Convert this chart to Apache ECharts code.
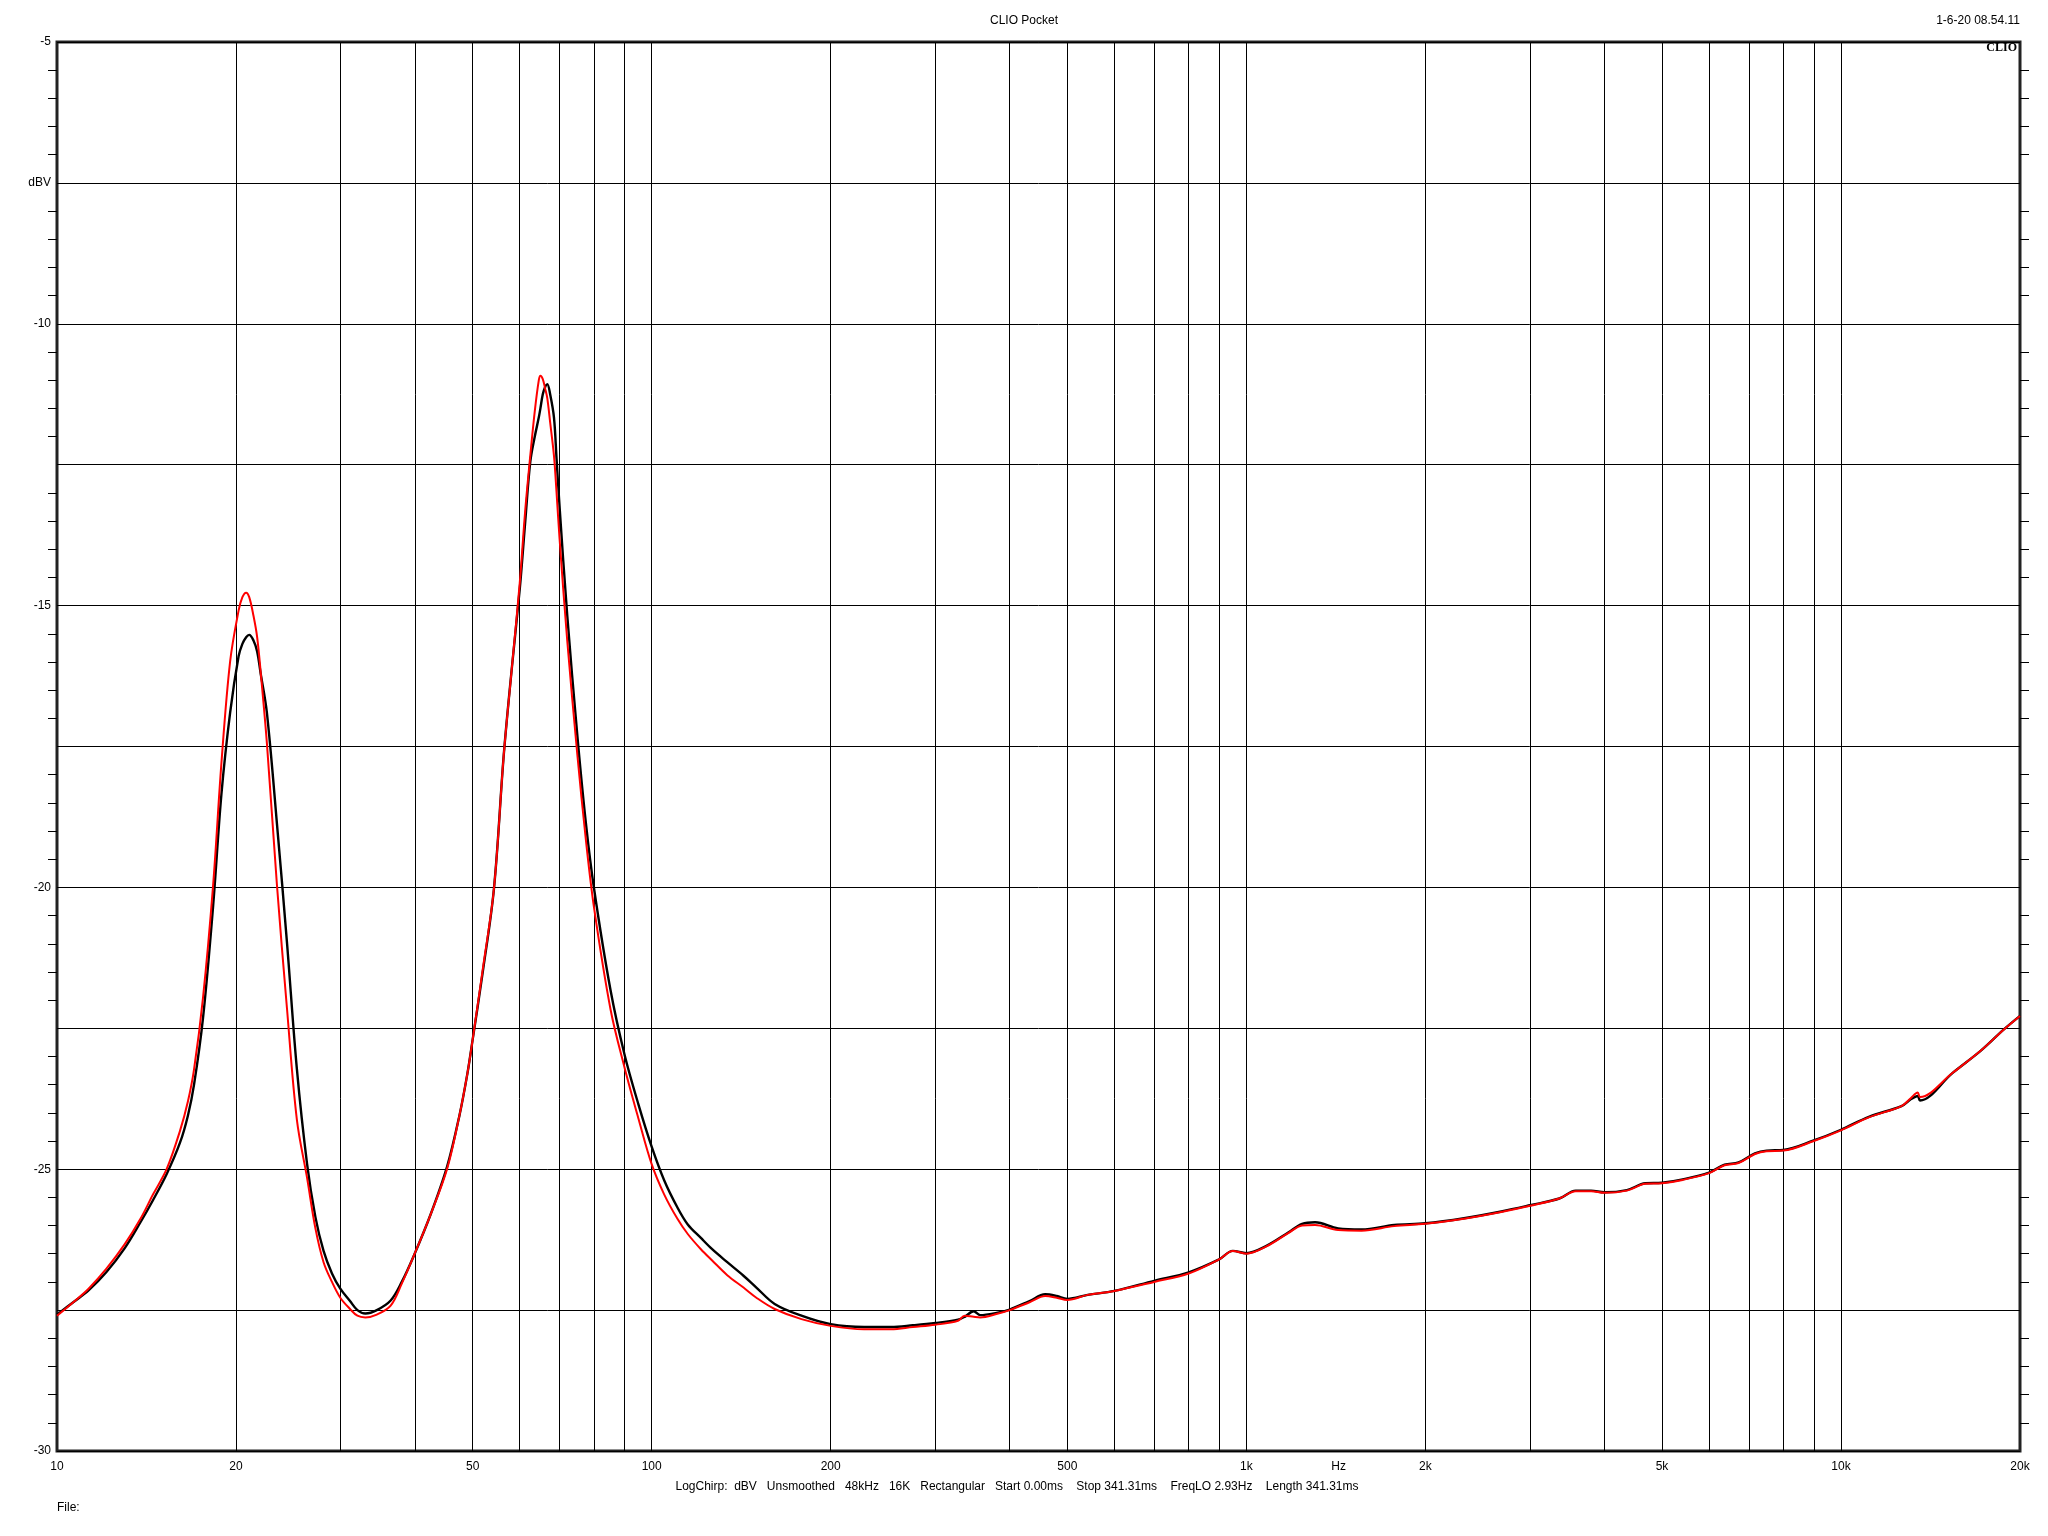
<!DOCTYPE html>
<html>
<head>
<meta charset="utf-8">
<script src="https://cdn.jsdelivr.net/npm/echarts@6/dist/echarts.min.js"></script>
<style>
html,body{margin:0;padding:0;background:#fff;}
#chart{width:2048px;height:1536px;}
</style>
</head>
<body>
<div id="chart"></div>
<script>
// Frequencies (Hz)
const freqs = [10,10.65,11.3,12.1,13.0,13.8,14.5,15.3,16.1,16.6,17.0,17.6,18.3,18.9,19.55,20.2,20.5,20.8,21.05,21.4,21.7,22.0,22.54,23.44,24.36,25.32,26.33,27.2,28.07,29.0,29.95,31.1,32.0,33.0,34.5,36.4,38.0,39.8,42.5,45.3,47.5,49.0,50,52,54.3,56.4,58.2,60,61.3,62.5,63.6,64.6,65.0,65.6,66.2,66.75,67.5,68.5,69.2,70,72.1,75,77.5,80,85.3,90,95,100,105,110.5,115,121,126.4,134,142.7,150,161,178.6,200,227.6,252.6,275,300,327.5,336,348,357,380,400,432,459,480,500,541,600,700,800,900,949,1000,1081,1178,1241,1305,1427,1562,1773,2000,2323,2684,3000,3360,3580,3800,4002,4364,4690,5000,5417,6000,6371,6726,7166,7496,8000,9000,10000,11140,12640,13100,13460,13580,15410,17170,18790,20000];
// Black trace (dBV)
const blackDb = [-27.58,-27.36,-27.15,-26.83,-26.40,-25.95,-25.55,-25.08,-24.53,-24.05,-23.50,-22.32,-20.34,-18.35,-16.90,-15.90,-15.68,-15.56,-15.52,-15.62,-15.81,-16.20,-16.90,-18.88,-20.97,-23.23,-24.90,-25.85,-26.45,-26.85,-27.12,-27.34,-27.50,-27.56,-27.50,-27.33,-27.00,-26.54,-25.80,-24.95,-24.05,-23.30,-22.70,-21.50,-20.02,-17.65,-16.10,-14.71,-13.50,-12.45,-12.00,-11.66,-11.50,-11.25,-11.12,-11.07,-11.25,-11.66,-12.40,-13.24,-15.16,-17.31,-18.85,-20.02,-21.83,-22.96,-23.85,-24.60,-25.20,-25.68,-25.98,-26.22,-26.42,-26.65,-26.89,-27.10,-27.39,-27.60,-27.75,-27.80,-27.80,-27.77,-27.73,-27.67,-27.62,-27.52,-27.59,-27.55,-27.49,-27.34,-27.22,-27.25,-27.30,-27.23,-27.16,-26.98,-26.83,-26.60,-26.45,-26.49,-26.36,-26.12,-25.97,-25.94,-26.05,-26.07,-25.99,-25.96,-25.87,-25.75,-25.64,-25.52,-25.38,-25.38,-25.41,-25.37,-25.25,-25.24,-25.18,-25.06,-24.92,-24.88,-24.72,-24.67,-24.66,-24.49,-24.30,-24.07,-23.88,-23.76,-23.70,-23.78,-23.29,-22.90,-22.52,-22.28];
// Red trace (dBV)
const redDb = [-27.60,-27.36,-27.12,-26.77,-26.33,-25.89,-25.45,-24.99,-24.32,-23.80,-23.23,-21.96,-19.97,-17.80,-15.99,-15.09,-14.85,-14.77,-14.85,-15.18,-15.55,-16.17,-17.44,-19.97,-22.14,-24.13,-25.15,-26.05,-26.65,-27.00,-27.28,-27.48,-27.60,-27.63,-27.58,-27.42,-27.03,-26.54,-25.80,-24.99,-24.05,-23.30,-22.70,-21.45,-20.02,-17.65,-16.10,-14.60,-13.30,-12.34,-11.55,-11.00,-10.92,-10.98,-11.15,-11.32,-11.75,-12.34,-13.00,-13.81,-15.61,-17.65,-19.15,-20.36,-22.17,-23.19,-24.10,-24.91,-25.45,-25.88,-26.15,-26.42,-26.62,-26.88,-27.10,-27.28,-27.48,-27.66,-27.78,-27.84,-27.84,-27.80,-27.76,-27.69,-27.60,-27.62,-27.63,-27.57,-27.50,-27.36,-27.25,-27.28,-27.32,-27.23,-27.16,-27.00,-26.85,-26.60,-26.45,-26.50,-26.37,-26.13,-26.00,-25.99,-26.08,-26.09,-26.01,-25.97,-25.88,-25.76,-25.65,-25.52,-25.39,-25.39,-25.42,-25.38,-25.26,-25.25,-25.19,-25.07,-24.93,-24.89,-24.73,-24.68,-24.67,-24.50,-24.31,-24.08,-23.88,-23.74,-23.64,-23.72,-23.29,-22.90,-22.52,-22.28];
// Vertical grid frequencies
const gridFreqs = [20,30,40,50,60,70,80,90,100,200,300,400,500,600,700,800,900,1000,2000,3000,4000,5000,6000,7000,8000,9000,10000];
// X tick labels
const xTickValues = [10,20,50,100,200,500,1000,1430,2000,5000,10000,20000];
const xTickLabels = ['10','20','50','100','200','500','1k','Hz','2k','5k','10k','20k'];
// Y tick labels
const yTickValues = [-5,-7.5,-10,-15,-20,-25,-30];
const yTickLabels = ['-5','dBV','-10','-15','-20','-25','-30'];

const FONT = '"Liberation Sans", Arial, sans-serif';
const pair = (a) => freqs.map((f, i) => [f, a[i]]);

const markData = gridFreqs.map(f => ({xAxis: f, label: {show: false}}))
  .concat(xTickValues.map((f, i) => ({
    xAxis: f,
    lineStyle: {width: 0, color: 'rgba(0,0,0,0)'},
    label: {show: true, position: 'start', distance: 10, formatter: xTickLabels[i],
      color: '#000', fontSize: 12, fontFamily: FONT}
  })));

const yLabelFmt = (v) => {
  for (let i = 0; i < yTickValues.length; i++) if (Math.abs(yTickValues[i] - v) < 1e-6) return yTickLabels[i];
  return '';
};

const yBase = {
  type: 'value', min: -30, max: -5, interval: 2.5,
  axisLine: {show: false},
  axisTick: {show: false},
  minorTick: {show: true, splitNumber: 5, length: 9, lineStyle: {color: '#000', width: 1}},
  minorSplitLine: {show: false}
};

const chart = echarts.init(document.getElementById('chart'), null, {renderer: 'canvas'});
chart.setOption({
  animation: false,
  backgroundColor: '#fff',
  grid: {left: 57, right: 28, top: 42, bottom: 85, show: true, borderColor: '#222', borderWidth: 3, backgroundColor: 'transparent'},
  xAxis: {
    type: 'log', logBase: 10, min: 10, max: 20000,
    axisLine: {show: false}, axisTick: {show: false}, axisLabel: {show: false},
    splitLine: {show: false}, minorTick: {show: false}, minorSplitLine: {show: false}
  },
  yAxis: [
    Object.assign({}, yBase, {
      position: 'left',
      axisLabel: {show: true, formatter: yLabelFmt, color: '#000', fontSize: 12, fontFamily: FONT, margin: 6},
      splitLine: {show: true, lineStyle: {color: '#000', width: 1}}
    }),
    Object.assign({}, yBase, {
      position: 'right',
      axisLabel: {show: false},
      splitLine: {show: false}
    })
  ],
  series: [
    {
      type: 'line', name: 'black', data: pair(blackDb), showSymbol: false, symbol: 'none',
      smooth: 0.35,
      lineStyle: {color: '#000', width: 2.4}, z: 3,
      markLine: {
        silent: true, symbol: ['none', 'none'], z: 1, animation: false,
        lineStyle: {color: '#000', width: 1, type: 'solid'},
        emphasis: {disabled: true},
        data: markData
      }
    },
    {
      type: 'line', name: 'red', data: pair(redDb), showSymbol: false, symbol: 'none',
      smooth: 0.35,
      lineStyle: {color: '#ff0000', width: 2}, z: 4
    }
  ],
  graphic: [
    {type: 'text', left: 'center', top: 15, style: {text: 'CLIO Pocket', fill: '#000', font: '12px ' + FONT}},
    {type: 'text', right: 28, top: 15, style: {text: '1-6-20 08.54.11', fill: '#000', font: '12px ' + FONT}},
    {type: 'text', right: 31, top: 42, style: {text: 'CLIO', fill: '#000', font: 'bold 12px "Liberation Serif", "DejaVu Serif", serif'}},
    {type: 'text', x: 1017, y: 1487, style: {text: 'LogChirp:  dBV   Unsmoothed   48kHz   16K   Rectangular   Start 0.00ms    Stop 341.31ms    FreqLO 2.93Hz    Length 341.31ms', fill: '#000', font: '12px ' + FONT, align: 'center', verticalAlign: 'middle'}},
    {type: 'text', x: 57, y: 1508, style: {text: 'File:', fill: '#000', font: '12px ' + FONT, align: 'left', verticalAlign: 'middle'}}
  ]
});
</script>
</body>
</html>
